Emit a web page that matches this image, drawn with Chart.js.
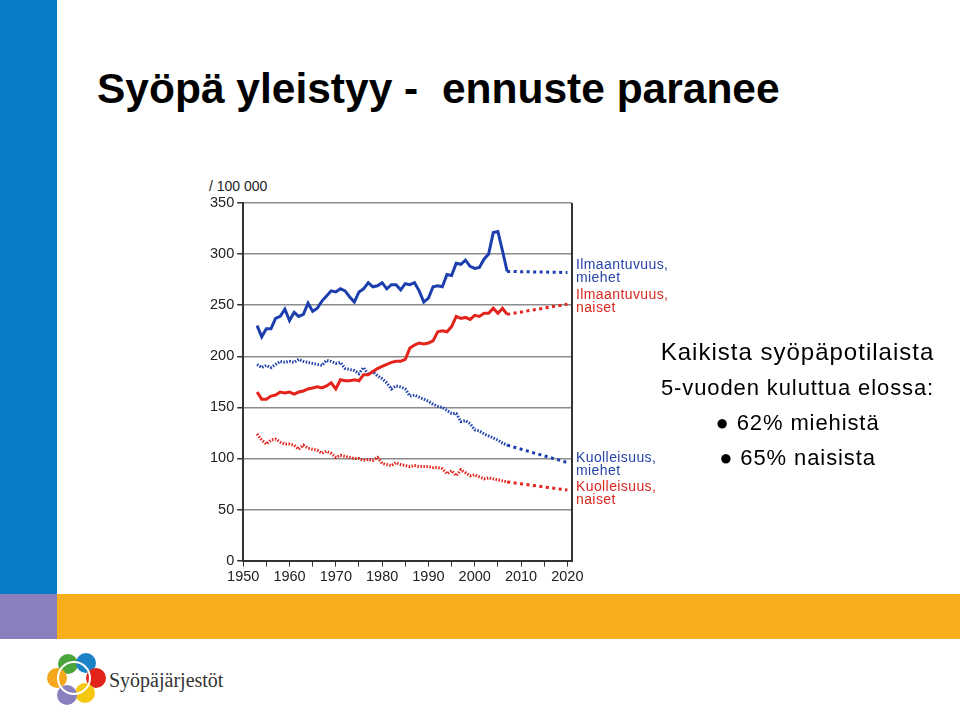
<!DOCTYPE html>
<html lang="fi">
<head>
<meta charset="UTF-8">
<title>Syöpä yleistyy - ennuste paranee</title>
<script src="https://cdn.jsdelivr.net/npm/chart.js"></script>
<style>
  html, body { margin: 0; padding: 0; }
  body { width: 960px; height: 707px; position: relative; overflow: hidden; background: #fff; font-family: Arial, "Liberation Sans", sans-serif; }
  .strip-blue { position: absolute; left: 0; top: 0; width: 57px; height: 594px; background: #0a7bc6; }
  .strip-purple { position: absolute; left: 0; top: 594px; width: 57px; height: 45px; background: #8a80bd; }
  .strip-orange { position: absolute; left: 57px; top: 594px; width: 903px; height: 45px; background: #f9ae1c; }
  h1 { position: absolute; left: 97px; top: 65px; margin: 0; font-size: 42.5px; font-weight: bold; color: #000; white-space: pre; }
  .unit { position: absolute; left: 209px; top: 178px; font-size: 14px; color: #222; }
  #wrap { position: absolute; left: 180px; top: 180px; width: 500px; height: 408px; }
  .info { position: absolute; left: 640px; top: 334px; width: 315px; text-align: center; color: #000; }
  .info div { white-space: nowrap; }
  .info .l1 { font-size: 24px; line-height: 36px; height: 36px; letter-spacing: 1px; }
  .info .l2 { font-size: 22px; line-height: 35px; height: 35px; letter-spacing: 0.9px; }
  .info .l3 { font-size: 22px; line-height: 35px; height: 35px; letter-spacing: 0.9px; }
  .logo { position: absolute; left: 45px; top: 652px; width: 62px; height: 54px; }
  .logo span { position: absolute; width: 20px; height: 20px; border-radius: 50%; }
  .logo .ring { position: absolute; left: 12px; top: 9px; width: 30px; height: 30px; border: 2px solid #fff; border-radius: 50%; background: transparent; }
  .brand { position: absolute; left: 109px; top: 669px; font-family: "Liberation Serif", "DejaVu Serif", serif; font-size: 20px; color: #333; }
</style>
</head>
<body>
<div class="strip-blue"></div>
<div class="strip-purple"></div>
<div class="strip-orange"></div>
<h1>Syöpä yleistyy -  ennuste paranee</h1>
<div class="unit">/ 100 000</div>
<div id="wrap"><canvas id="chart"></canvas></div>
<div class="info">
  <div class="l1">Kaikista syöpäpotilaista</div>
  <div class="l2">5-vuoden kuluttua elossa:</div>
  <div class="l3">● 62% miehistä</div>
  <div class="l3">● 65% naisista</div>
</div>
<div class="logo">
  <span style="left:13px;top:2px;background:#4aa63c"></span>
  <span style="left:31px;top:1px;background:#1b83c5"></span>
  <span style="left:41px;top:16px;background:#e2231a"></span>
  <span style="left:30px;top:31px;background:#f6c812"></span>
  <span style="left:12px;top:33px;background:#8c7fbd"></span>
  <span style="left:2px;top:16px;background:#f5a81c"></span>
  <div class="ring"></div>
</div>
<div class="brand">Syöpäjärjestöt</div>

<script>
// vuodet 1953-2007
const years = [];
for (let y = 1953; y <= 2007; y++) years.push(y);
const projYears = [2007, 2020];

const incidenceMen = [230, 219, 227, 227, 237, 239, 246, 235, 243, 239, 241, 252, 244, 247, 254, 259, 264, 263,
  266, 264, 258, 253, 263, 266, 272, 268, 269, 272, 266, 270, 270, 265, 271, 270, 272, 264, 253, 257,
  268, 269, 268, 280, 279, 291, 290, 294, 288, 286, 287, 295, 300, 321, 322, 303, 283];
const incidenceWomen = [165, 158, 158, 161, 162, 165, 164, 165, 163, 165, 166, 168, 169, 170, 169, 171, 174, 168,
  177, 176, 176, 177, 176, 182, 182, 185, 188, 190, 192, 194, 195, 195, 197, 208, 211, 213, 212, 213,
  215, 224, 225, 224, 229, 239, 237, 238, 236, 240, 239, 242, 242, 247, 242, 247, 241];
const mortalityMen = [192, 189, 191, 189, 192, 195, 194, 195, 194, 197, 195, 194, 193, 192, 191, 196, 195, 193,
  194, 188, 187, 186, 183, 189, 182, 185, 181, 178, 174, 168, 171, 170, 168, 161, 162, 160, 158, 156,
  153, 151, 150, 147, 144, 144, 136, 137, 134, 128, 127, 124, 122, 120, 118, 115, 113];
const mortalityWomen = [124, 118, 114, 118, 119, 116, 114, 114, 113, 109, 113, 110, 109, 108, 105, 107, 105, 101,
  103, 102, 101, 100, 100, 98, 99, 98, 101, 95, 94, 93, 96, 94, 93, 92, 93, 92, 92, 92,
  91, 91, 90, 85, 88, 83, 89, 86, 83, 84, 82, 80, 81, 80, 79, 78, 77];
const projIncMen = [283, 282];
const projIncWomen = [241, 251];
const projMortMen = [113, 96];
const projMortWomen = [77, 69];

const yTicks = [0, 50, 100, 150, 200, 250, 300, 350];
const xLabels = [1950, 1960, 1970, 1980, 1990, 2000, 2010, 2020];

const BLUE = '#1d3fae';
const RED = '#e4231c';

// tekstit viivojen oikealla puolella
const seriesLabels = [
  { lines: ['Ilmaantuvuus,', 'miehet'], value: 289, color: '#2744a8' },
  { lines: ['Ilmaantuvuus,', 'naiset'], value: 259.5, color: '#d8281f' },
  { lines: ['Kuolleisuus,', 'miehet'], value: 100.5, color: '#2744a8' },
  { lines: ['Kuolleisuus,', 'naiset'], value: 72, color: '#d8281f' }
];

function pts(xs, ys) {
  return xs.map((x, i) => ({ x: x, y: ys[i] }));
}

function line(data, color, width, dash) {
  return {
    data: data,
    borderColor: color,
    borderWidth: width,
    borderDash: dash,
    pointRadius: 0,
    tension: 0,
    fill: false
  };
}

const frame = {
  id: 'frame',
  afterDraw(chart) {
    const ctx = chart.ctx;
    const a = chart.chartArea;
    const ys = chart.scales.y;
    ctx.save();
    ctx.strokeStyle = '#333';
    ctx.lineWidth = 2;
    ctx.beginPath();
    ctx.moveTo(a.right, a.top);
    ctx.lineTo(a.right, a.bottom);
    ctx.stroke();
    ctx.font = '14px Arial, "Liberation Sans", sans-serif';
    ctx.letterSpacing = '0.4px';
    ctx.textBaseline = 'middle';
    seriesLabels.forEach(l => {
      const y0 = ys.getPixelForValue(l.value);
      ctx.fillStyle = l.color;
      l.lines.forEach((t, i) => ctx.fillText(t, a.right + 4, y0 + i * 13));
    });
    ctx.restore();
  }
};

new Chart(document.getElementById('chart'), {
  type: 'line',
  data: {
    datasets: [
      line(pts(years, incidenceMen), BLUE, 3, []),
      line(pts(years, incidenceWomen), RED, 3, []),
      line(pts(years, mortalityMen), BLUE, 3, [1.5, 1.5]),
      line(pts(years, mortalityWomen), RED, 3, [1.5, 1.5]),
      line(pts(projYears, projIncMen), BLUE, 3, [3, 3.5]),
      line(pts(projYears, projIncWomen), RED, 3, [3, 3.5]),
      line(pts(projYears, projMortMen), BLUE, 3, [3, 3.5]),
      line(pts(projYears, projMortWomen), RED, 3, [3, 3.5])
    ]
  },
  options: {
    responsive: true,
    maintainAspectRatio: false,
    animation: false,
    layout: { padding: { left: 27, right: 108, top: 23, bottom: 0 } },
    plugins: { legend: { display: false }, tooltip: { enabled: false } },
    scales: {
      x: {
        type: 'linear',
        min: 1950,
        max: 2021,
        grid: { drawOnChartArea: false, drawTicks: true, tickLength: 6, tickColor: '#333' },
        border: { color: '#333', width: 2 },
        ticks: {
          stepSize: 5,
          includeBounds: false,
          autoSkip: false,
          maxRotation: 0,
          padding: 2,
          color: '#222',
          font: { family: 'Arial, "Liberation Sans", sans-serif', size: 14.5 },
          callback: v => xLabels.includes(v) ? String(v) : ''
        }
      },
      y: {
        min: 0,
        max: 350,
        afterBuildTicks: s => { s.ticks = yTicks.map(v => ({ value: v })); },
        grid: { color: '#8c8c8c', lineWidth: 1.5, tickLength: 6, tickColor: '#333' },
        border: { color: '#333', width: 2 },
        ticks: {
          padding: 3,
          color: '#222',
          font: { family: 'Arial, "Liberation Sans", sans-serif', size: 14.5 }
        }
      }
    }
  },
  plugins: [frame]
});
</script>
</body>
</html>
